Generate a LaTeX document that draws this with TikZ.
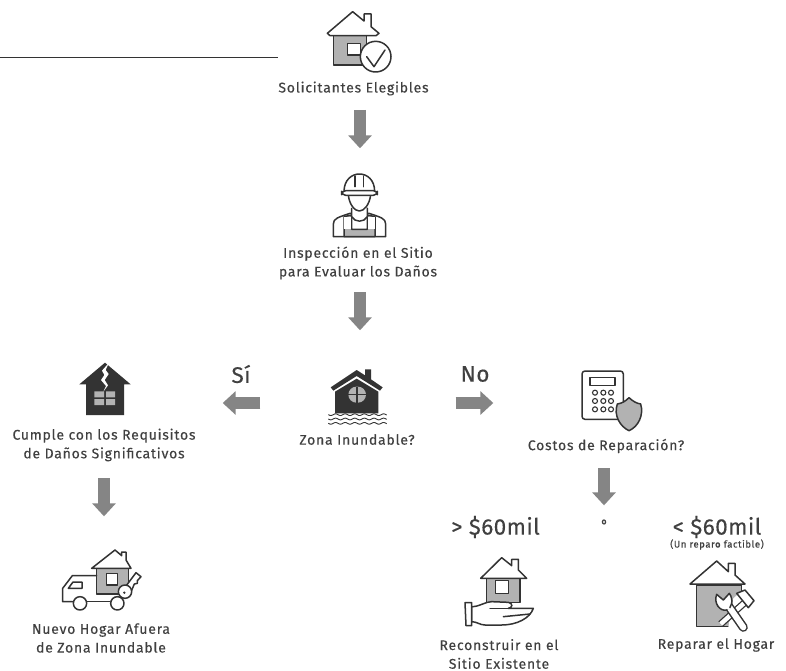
\documentclass[tikz,border=0pt]{standalone}
\usepackage{fontspec}
\setmainfont{Fira Sans}[LetterSpace=5.5,FakeBold=0.25]
\newfontfamily\bigfont{Fira Sans}[LetterSpace=2,FakeBold=0.2]
\usetikzlibrary{arrows.meta}
\definecolor{ink}{HTML}{333333}
\definecolor{txt}{HTML}{404040}
\definecolor{midg}{HTML}{B2B2B2}
\definecolor{arrg}{HTML}{858585}
\tikzset{
  x=1pt,y=-1pt,
  lab/.style={align=center,font=\fontsize{14}{18.7}\selectfont,text=txt,inner sep=0pt},
  biglab/.style={font=\bigfont\fontsize{22.5}{24}\selectfont,text=txt,inner sep=0pt},
  ico/.style={inner sep=0pt,minimum width=1pt,minimum height=1pt},
  blockarrow/.style={draw=arrg,line width=12pt,-{Triangle[width=23pt,length=13pt]}},
  ol/.style={draw=ink,line width=1.5pt,line join=round,line cap=round},
  gf/.style={fill=midg},
  wf/.style={fill=white},
}
\begin{document}
\begin{tikzpicture}
\useasboundingbox (0,0) rectangle (786,671);
\fill[white] (0,0) rectangle (786,671);
% rule
\coordinate (ruleL) at (0,57);\coordinate (ruleR) at (278,57);
\draw[ink,line width=0.8pt] (ruleL) -- (ruleR);
% ---------- labels
\node[lab] (elig) at (353.5,88.5) {Solicitantes Elegibles};
\node[lab] (insp) at (358,263) {Inspección en el Sitio\\para Evaluar los Daños};
\node[lab] (zona) at (357,439.5) {Zona Inundable?};
\node[lab] (cump) at (104,445) {Cumple con los Requisitos\\de Daños Significativos};
\node[lab] (nuevo) at (101,638) {Nuevo Hogar Afuera\\de Zona Inundable};
\node[lab] (cost) at (606,446) {Costos de Reparación?};
\node[lab] (recon) at (499,654) {Reconstruir en el\\Sitio Existente};
\node[lab] (repar) at (716,645) {Reparar el Hogar};
\node[biglab] (si) at (241,374) {Sí};
\node[biglab] (no) at (475,374) {No};
\node[biglab] (mas) at (495.5,527) {> \$60mil};
\node[biglab] (menos) at (717,527) {< \$60mil};
\node[font=\fontsize{9.6}{10}\selectfont,text=txt,inner sep=0pt] (fact) at (717,544.5) {(Un reparo factible)};
\node[font=\fontsize{9}{10}\selectfont,text=txt,inner sep=0pt] (ou) at (604,522) {o};
% ---------- anchors at icon centres
\node[ico] (icoInsp) at (360,172) {};
\node[ico] (icoZona) at (360,403) {};
\node[ico] (icoCump) at (104,403) {};
\node[ico] (icoNuevo) at (104,575) {};
\node[ico] (icoCost) at (604,403) {};
% ---------- connectors
\draw[blockarrow,shorten <=21.5pt,shorten >=23pt] (elig.center -| icoInsp) -- (icoInsp);
\draw[blockarrow,shorten <=29pt,shorten >=72pt] (insp.center -| icoZona) -- (icoZona);
\draw[blockarrow,shorten <=99pt,shorten >=118pt] (icoZona) -- (icoCump);
\draw[blockarrow,shorten <=95pt,shorten >=110pt] (icoZona) -- (icoCost);
\draw[blockarrow,shorten <=33pt,shorten >=58pt] (cump.center -| icoNuevo) -- (icoNuevo);
\draw[blockarrow,shorten <=22pt,shorten >=14pt] (cost.center -| ou) -- (ou);
% ---------- icon: house with check
\begin{scope}[shift={(270,0)},scale=1/3]
\draw[ol,gf] (190,105) rectangle (290,195);
\draw[ol,wf] (232,130) rectangle (272,165);
\draw[ol,wf] (172,100) -- (248,35) -- (282,63) -- (282,42) -- (303,42) -- (303,80) -- (327,100) -- (318,107) -- (180,107) -- cycle;
\draw[ol,wf] (317,170) circle[radius=46];
\draw[ol] (290,170) -- (312,200) -- (345,150);
\end{scope}
% ---------- icon: worker
\begin{scope}[shift={(270,0)},scale=1/3]
\draw[ol,wf] (190,710) -- (190,672) .. controls (190,655) and (205,652) .. (240,640) -- (297,640) .. controls (332,652) and (347,655) .. (347,672) -- (347,710) -- cycle;
\draw[ol,gf] (222,650) -- (222,710) -- (315,710) -- (315,650) -- (292,645) -- (292,688) -- (245,688) -- (245,645) -- cycle;
\fill[white] (223,651) rectangle (244,687);
\fill[white] (293,651) rectangle (314,687);
\draw[ol,wf] (245,625) -- (245,650) .. controls (255,668) and (282,668) .. (292,650) -- (292,625);
\draw[ol,wf] (235,585) .. controls (238,615) and (255,633) .. (268,633) .. controls (282,633) and (298,615) .. (302,585);
\draw[ol,wf] (222,575) .. controls (222,540) and (245,522) .. (268,522) .. controls (292,522) and (314,540) .. (314,575);
\draw[ol,wf,rounded corners=4pt] (215,572) rectangle (322,586);
\draw[ol] (255,560) -- (255,528) (281,560) -- (281,528);
\end{scope}
% ---------- icon: cracked house
\begin{scope}[shift={(0,350)},scale=1/3]
\fill[ink] (315,38) -- (392,103) -- (372,103) -- (372,195) -- (258,195) -- (258,103) -- (238,103) -- cycle;
\fill[white] (327,38) -- (306,62) -- (313,75) -- (303,90) -- (318,108) -- (310,125) -- (324,106) -- (314,90) -- (326,72) -- (317,60) -- cycle;
\fill[midg] (283,124) rectangle (312,142) (318,124) rectangle (345,142) (283,147) rectangle (312,165) (318,147) rectangle (345,165);
\end{scope}
% ---------- icon: truck, house and key
\begin{scope}[shift={(0,350)},scale=1/3]
\draw[ol,gf] (290,655) rectangle (385,732);
\draw[ol,wf] (320,670) rectangle (352,705);
\draw[ol,wf] (275,655) -- (345,600) -- (365,617) -- (365,606) -- (378,606) -- (378,630) -- (393,655) -- cycle;
\draw[ol] (290,677) -- (217,677) -- (188,715) -- (188,755) -- (218,755);
\draw[ol] (205,715) -- (219,696) -- (246,696) -- (246,715) -- cycle;
\draw[ol] (262,755) -- (330,755);
\draw[ol,wf] (240,760) circle[radius=20];
\draw[ol,wf] (352,760) circle[radius=20];
\draw[ol,wf] (378,708) -- (408,668) -- (423,680) -- (412,692) -- (412,700) -- (403,702) -- (392,728) -- cycle;
\draw[ol,wf] (375,725) circle[radius=20];
\fill[ink] (373,728) circle[radius=4];
\end{scope}
% ---------- icon: flooded house
\begin{scope}[shift={(290,350)},scale=1/3]
\fill[ink] (122,112) -- (200,60) -- (225,76) -- (225,58) -- (243,58) -- (243,88) -- (278,112) -- (270,122) -- (200,78) -- (130,122) -- cycle;
\fill[ink] (135,125) -- (200,86) -- (265,125) -- (265,190) -- (135,190) -- cycle;
\fill[midg,rounded corners=8pt] (175,110) rectangle (228,158);
\draw[ink,line width=1.2pt] (201,110) -- (201,158) (175,134) -- (228,134);
\foreach \yy in {194,207,220}
  \draw[ink,line width=0.9pt,domain=115:290,samples=90,smooth] plot (\x,{\yy+2.5*sin(\x*12.5)});
\end{scope}
% ---------- icon: calculator and shield
\begin{scope}[shift={(520,360)},scale=1/3]
\draw[ol,rounded corners=3pt] (186,33) rectangle (310,178);
\draw[ol] (210,52) rectangle (285,77);
\foreach \cx in {225,250,273}
  \foreach \cy in {98,123,148}
    \draw[draw=ink,line width=1.1pt] (\cx,\cy) circle[radius=7.5];
\draw[ol,gf] (327,113) .. controls (340,125) and (350,130) .. (362,132) .. controls (372,165) and (355,200) .. (327,212) .. controls (300,200) and (280,165) .. (292,132) .. controls (305,130) and (315,125) .. (327,113) -- cycle;
\end{scope}
% ---------- icon: hand with house
\begin{scope}[shift={(430,510)},scale=1/3]
\draw[ol,gf] (170,205) rectangle (270,278);
\draw[ol,wf] (197,212) rectangle (235,250);
\draw[ol,wf] (152,205) -- (215,143) -- (245,167) -- (245,148) -- (265,148) -- (265,180) -- (290,205) -- cycle;
\draw[ol,wf] (125,290) .. controls (150,290) and (165,275) .. (185,275) -- (235,277) .. controls (250,280) and (248,293) .. (235,295) -- (310,295) .. controls (300,325) and (260,345) .. (215,345) -- (165,345) .. controls (150,345) and (140,335) .. (125,335) -- cycle;
\draw[ol] (220,320) -- (300,312);
\draw[ol] (180,295) -- (235,295);
\draw[ol,wf] (105,278) -- (125,278) -- (125,347) -- (108,347) -- cycle;
\end{scope}
% ---------- icon: house with tools
\begin{scope}[shift={(430,510)},scale=1/3]
\draw[ol,gf] (800,225) -- (800,350) -- (935,350) -- (935,225) -- cycle;
\fill[white] (895,351.5) -- (960,351.5) -- (960,222) -- (910,265) -- cycle;
\draw[ol,wf] (780,222) -- (860,153) -- (895,185) -- (895,160) -- (915,160) -- (915,195) -- (945,222) -- cycle;
% hammer
\draw[draw=ink,line width=7pt,line cap=butt] (872,342) -- (945,277);
\draw[draw=white,line width=4.5pt,line cap=butt] (872,342) -- (945,277);
\draw[ol,wf] (920,250) -- (945,240) -- (972,272) -- (955,293) -- cycle;
% wrench
\draw[draw=ink,line width=9pt,line cap=round] (890,280) -- (940,352);
\draw[draw=white,line width=6pt,line cap=round] (890,280) -- (940,352);
\draw[ol,wf] (860,253) -- (880,270) -- (898,250) .. controls (912,270) and (905,295) .. (890,300) .. controls (870,305) and (850,280) .. (860,253) -- cycle;
\fill[white] (887,278) -- (900,296) -- (895,300) -- (882,290) -- cycle;
\end{scope}
\end{tikzpicture}
\end{document}
